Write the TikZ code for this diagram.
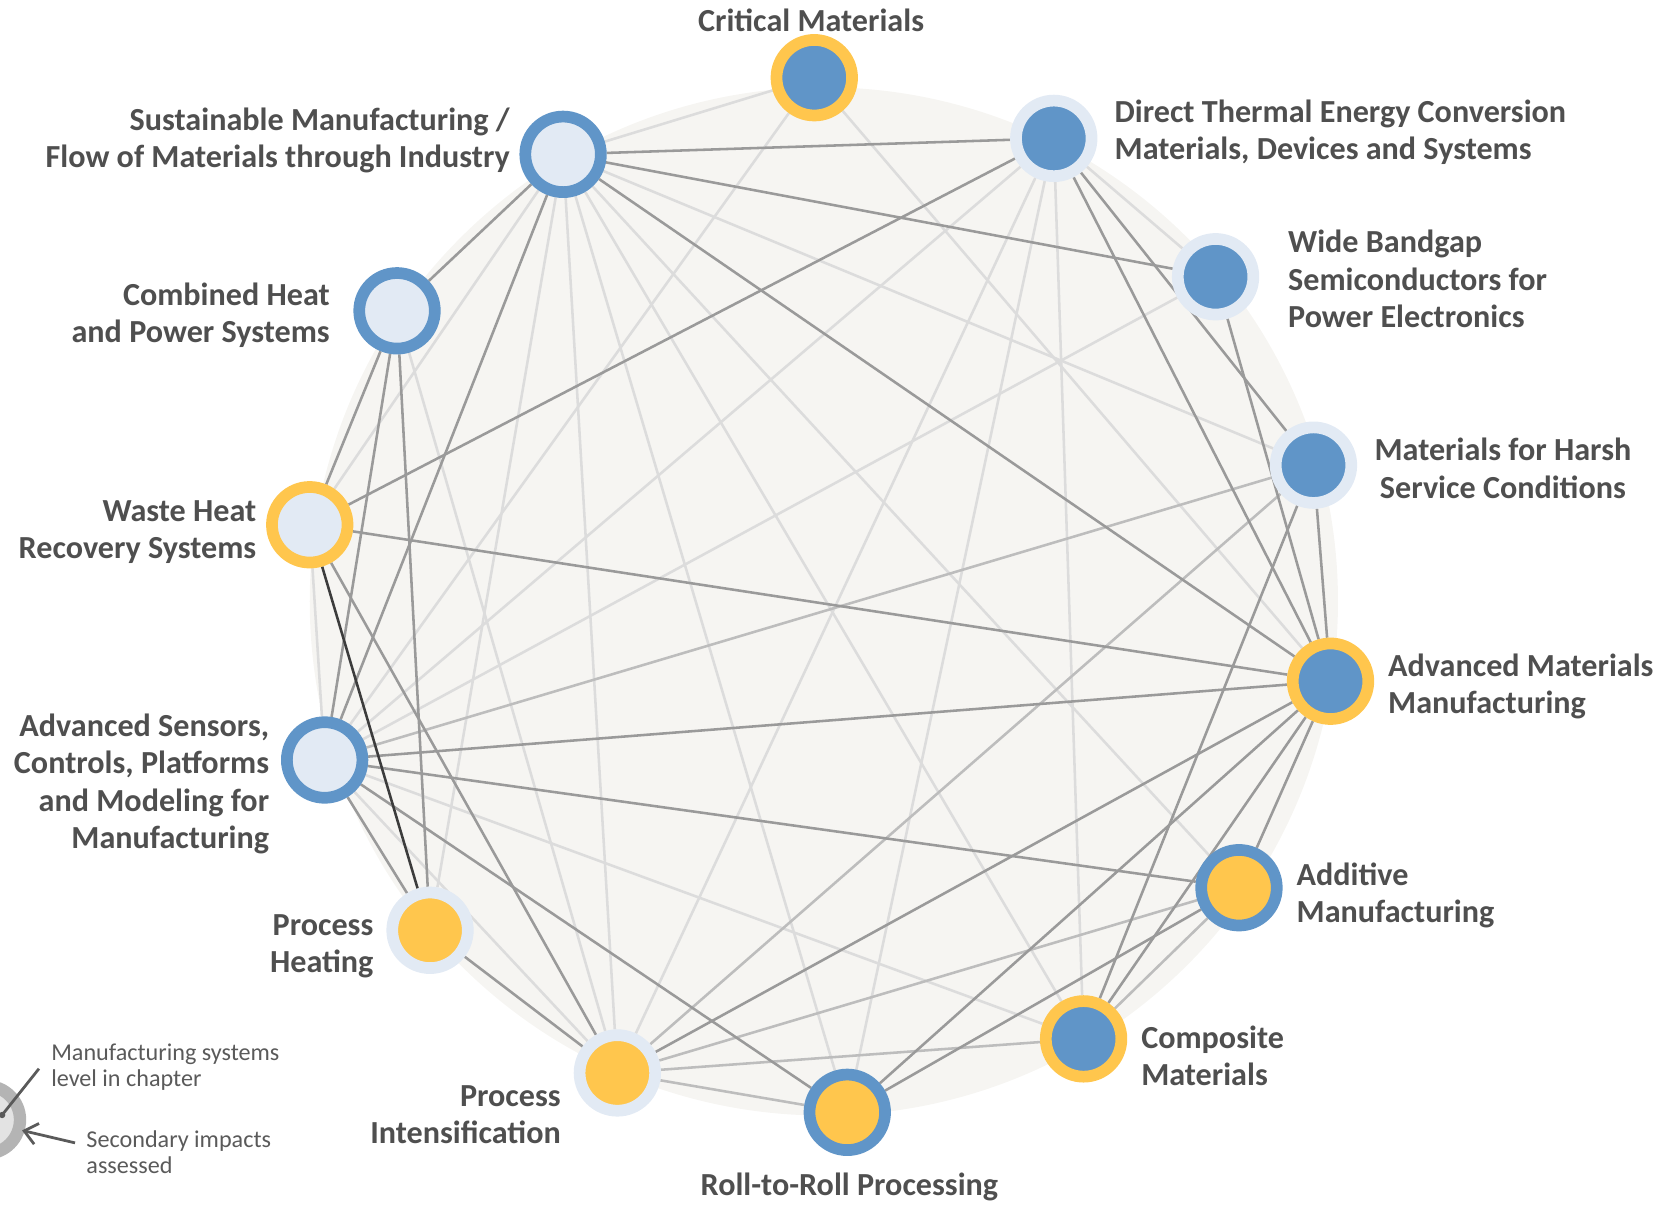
\documentclass[tikz,border=0pt]{standalone}
\usepackage{fontspec}
\setmainfont{Carlito}
\usetikzlibrary{arrows.meta}
\definecolor{nblue}{HTML}{6095C8}
\definecolor{nyel}{HTML}{FFC64D}
\definecolor{nlight}{HTML}{E2EAF4}
\definecolor{bgc}{HTML}{F6F5F2}
\definecolor{eL}{HTML}{DCDCDC}
\definecolor{eM}{HTML}{BDBDBD}
\definecolor{eD}{HTML}{9A9A9A}
\definecolor{eK}{HTML}{3C3C3C}
\definecolor{txt}{HTML}{4F4F4F}
\definecolor{legtxtc}{HTML}{5A5A5A}
\definecolor{legring}{HTML}{B4B4B4}
\definecolor{leginner}{HTML}{E3E3E3}
\pgfdeclarelayer{back}
\pgfdeclarelayer{edges}
\pgfsetlayers{back,edges,main}
\begin{document}
\begin{tikzpicture}[x=1pt,y=-1pt,
  topic/.style={circle, inner sep=0pt, minimum size=71pt, line width=11pt},
  ringYfillB/.style={topic, draw=nyel, fill=nblue},
  ringLfillB/.style={topic, draw=nlight, fill=nblue},
  ringBfillY/.style={topic, draw=nblue, fill=nyel},
  ringLfillY/.style={topic, draw=nlight, fill=nyel},
  ringBfillL/.style={topic, draw=nblue, fill=nlight},
  ringYfillL/.style={topic, draw=nyel, fill=nlight},
  lab/.style={font=\bfseries\fontsize{30.2}{35.2}\selectfont, text=txt, inner sep=0pt},
  legtxt/.style={font=\fontsize{22.7}{25}\selectfont, text=legtxtc, inner sep=0pt, align=left, anchor=west},
  legline/.style={draw=legtxtc, line width=2.6pt},
  elight/.style={draw=eL, line width=2.4pt},
  emid/.style={draw=eM, line width=2.4pt},
  emed/.style={draw=eD, line width=2.4pt},
  edark/.style={draw=eK, line width=2.4pt}
]
\useasboundingbox (0,0) rectangle (1568,1132);
\clip (0,0) rectangle (1568,1132);

\begin{pgfonlayer}{back}
  \fill[bgc] (774,565) circle[radius=483pt];
\end{pgfonlayer}

% topic nodes
\node[ringYfillB] (CM)  at (765,73)   {};
\node[ringLfillB] (DT)  at (990,130)  {};
\node[ringLfillB] (WB)  at (1142,260) {};
\node[ringLfillB] (MH)  at (1234,437) {};
\node[ringYfillB] (AMM) at (1250,640) {};
\node[ringBfillY] (AM)  at (1164,834) {};
\node[ringYfillB] (CoM) at (1018,976) {};
\node[ringBfillY] (RR)  at (796,1045) {};
\node[ringLfillY] (PI)  at (580,1008) {};
\node[ringLfillY] (PH)  at (404,874)  {};
\node[ringBfillL] (AS)  at (305,714)  {};
\node[ringYfillL] (WH)  at (291,493)  {};
\node[ringBfillL] (CHP) at (373,292)  {};
\node[ringBfillL] (SM)  at (529,145)  {};

% labels
\node[lab] (tCM) at (762,19) {Critical Materials};
\node[lab, align=right, anchor=east] (tSM) at (479,132) {Sustainable Manufacturing /\\Flow of Materials through Industry};
\node[lab, align=right, anchor=east] (tCHP) at (310,296) {Combined Heat\\and Power Systems};
\node[lab, align=right, anchor=east] (tWH) at (241,500) {Waste Heat\\Recovery Systems};
\node[lab, align=right, anchor=east] (tAS) at (253,736.5) {Advanced Sensors,\\Controls, Platforms\\and Modeling for\\Manufacturing};
\node[lab, align=right, anchor=east] (tPH) at (351,889) {Process\\Heating};
\node[lab, align=right, anchor=east] (tPI) at (527,1047) {Process\\Intensification};
\node[lab] (tRR) at (798,1115) {Roll-to-Roll Processing};
\node[lab, align=left, anchor=west] (tCoM) at (1072,992) {Composite\\Materials};
\node[lab, align=left, anchor=west] (tAM) at (1218,841) {Additive\\Manufacturing};
\node[lab, align=left, anchor=west] (tAMM) at (1304,645) {Advanced Materials\\Manufacturing};
\node[lab, align=center] (tMH) at (1412,440) {Materials for Harsh\\Service Conditions};
\node[lab, align=left, anchor=west] (tWB) at (1210,262) {Wide Bandgap\\Semiconductors for\\Power Electronics};
\node[lab, align=left, anchor=west] (tDT) at (1047,124) {Direct Thermal Energy Conversion\\Materials, Devices and Systems};

% edges
\begin{pgfonlayer}{edges}
\foreach \a/\b in {SM/CM, SM/MH, SM/AM, SM/CoM, SM/RR, SM/PI, SM/PH, SM/WH,
  CM/AS, CM/AMM, DT/AS, DT/PI, DT/RR, DT/CoM, DT/WB, WB/AS, CoM/AS,
  PI/CHP, PI/AS, WH/AS}
  \draw[elight] (\a) -- (\b);
\foreach \a/\b in {MH/AS, MH/PI, AM/PI, AM/CoM, CoM/PI, RR/PI}
  \draw[emid] (\a) -- (\b);
\foreach \a/\b in {SM/DT, SM/WB, SM/AMM, SM/AS, SM/CHP, DT/WH, DT/AMM, DT/MH,
  WB/AMM, MH/CoM, MH/AMM, AMM/WH, AMM/AS, AMM/PI, AMM/RR, AMM/CoM, AMM/AM,
  AM/AS, AM/RR, RR/AS, PI/PH, PI/WH, PH/AS, PH/CHP, WH/CHP, CHP/AS}
  \draw[emed] (\a) -- (\b);
\draw[edark] (WH) -- (PH);
\end{pgfonlayer}

% legend
\node[circle, inner sep=0pt, minimum size=63.6pt, line width=11.6pt, draw=legring, fill=leginner] (leg) at (-13,1052) {};
\coordinate (legdot) at (2,1047.5);
\fill[legtxtc] (legdot) circle[radius=3pt];
\node[legtxt] (legA) at (48,1002.5) {Manufacturing systems\\level in chapter};
\node[legtxt] (legB) at (81,1082.5) {Secondary impacts\\assessed};
\coordinate (legAend) at (36.6,1004);
\coordinate (legBstart) at (70.5,1073.7);
\coordinate (legtip) at (20.7,1062);
\draw[legline] (legdot) -- (legAend);
\draw[legline, -{Straight Barb[length=12pt,width=20pt,line width=2.6pt]}] (legBstart) -- (legtip);
\end{tikzpicture}
\end{document}
